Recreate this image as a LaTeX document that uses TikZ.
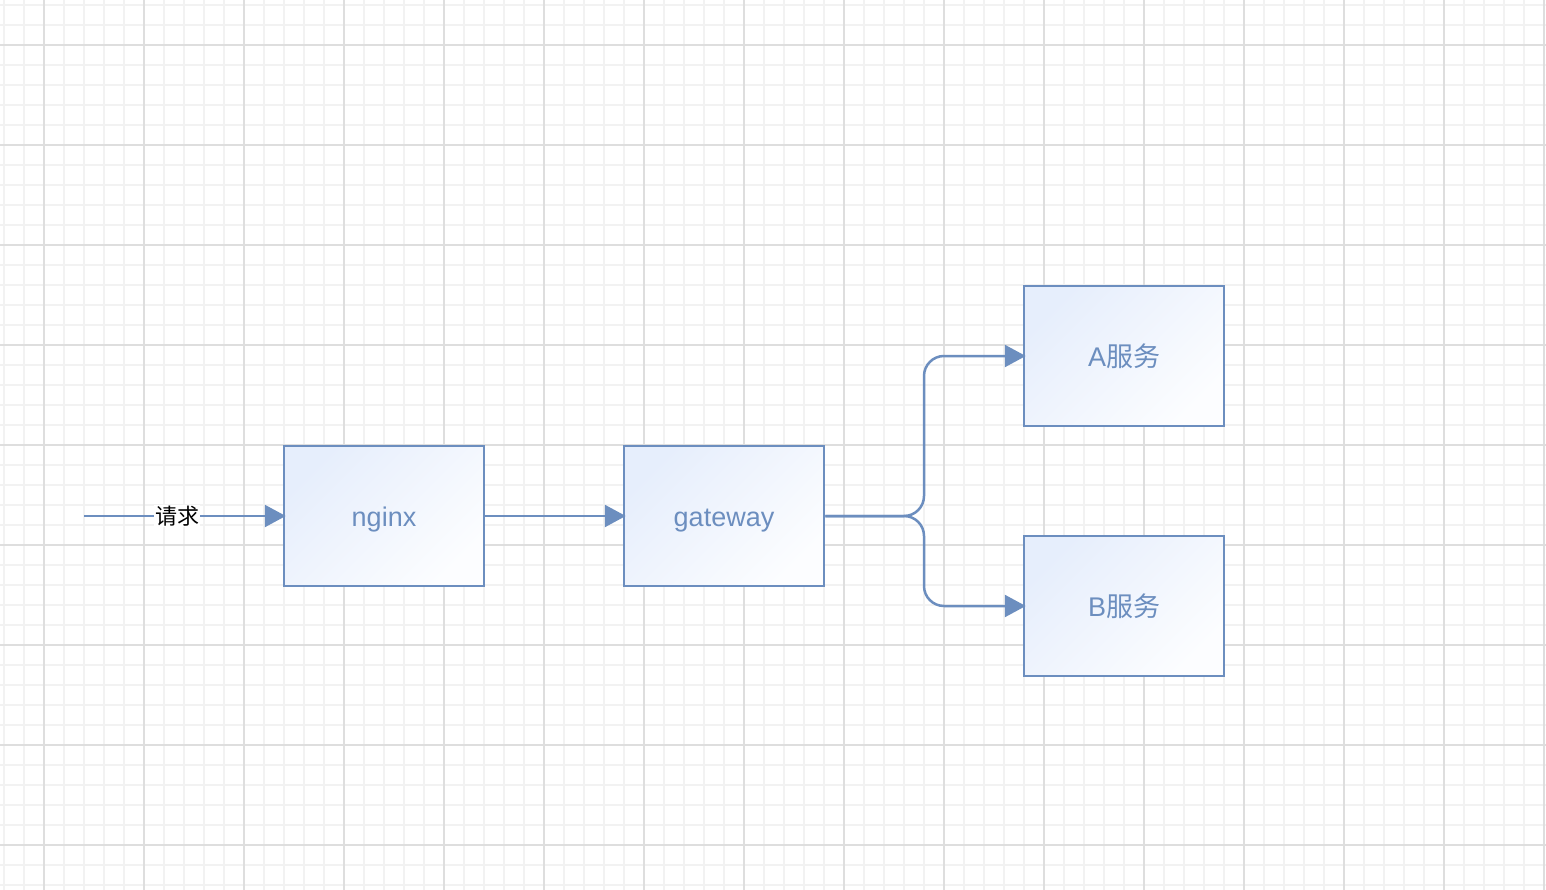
\documentclass[tikz,border=0pt]{standalone}
\usepackage{fontspec}
\setmainfont{Liberation Sans}
\newfontfamily\cjk{Noto Sans CJK SC}
\usetikzlibrary{arrows.meta}
\definecolor{edgeblue}{HTML}{6C8EBF}
\definecolor{fillA}{HTML}{E6EEFC}
\definecolor{fillB}{HTML}{FCFDFF}
\definecolor{gridminor}{HTML}{F2F2F2}
\definecolor{gridmajor}{HTML}{DEDEDE}
\tikzset{
  svcbox/.style={draw=edgeblue, line width=2.5pt, top color=fillA, bottom color=fillB, shading angle=45,
    minimum width=200pt, minimum height=140pt, inner sep=0pt, text=edgeblue,
    text height=21pt, text depth=0pt, font=\fontsize{27}{31}\selectfont},
  conn/.style={draw=edgeblue, line width=2.5pt, shorten >=-3pt, -{Triangle[length=21pt,width=22pt]}},
}
\begin{document}
\begin{tikzpicture}[x=1pt,y=-1pt]
\useasboundingbox (0,0) rectangle (1546,890);
\fill[white] (0,0) rectangle (1546,890);
% minor grid
\foreach \x in {4,24,...,1544} \draw[gridminor, line width=1.2pt] (\x,0) -- (\x,890);
\foreach \y in {5,25,...,885} \draw[gridminor, line width=1.2pt] (0,\y) -- (1546,\y);
% major grid
\foreach \x in {44,144,...,1544} \draw[gridmajor, line width=1.3pt] (\x,0) -- (\x,890);
\foreach \y in {45,145,...,845} \draw[gridmajor, line width=1.3pt] (0,\y) -- (1546,\y);

\node[svcbox] (nginx) at (384,516) {nginx};
\node[svcbox] (gw) at (724,516) {gateway};
\node[svcbox] (A) at (1124,356) {A{\cjk 服务}};
\node[svcbox] (B) at (1124,606) {B{\cjk 服务}};

\coordinate (start) at (84,516);
\coordinate (split) at (924,516);

\draw[conn] (start) -- (nginx.west);
\node[fill=white, inner sep=1pt, font=\cjk\fontsize{22}{25}\selectfont] (req) at (177,516) {请求};
\draw[conn] (nginx.east) -- (gw.west);
\draw[conn, rounded corners=20pt] (gw.east) -- (split) |- (A.west);
\draw[conn, rounded corners=20pt] (gw.east) -- (split) |- (B.west);
\end{tikzpicture}
\end{document}
